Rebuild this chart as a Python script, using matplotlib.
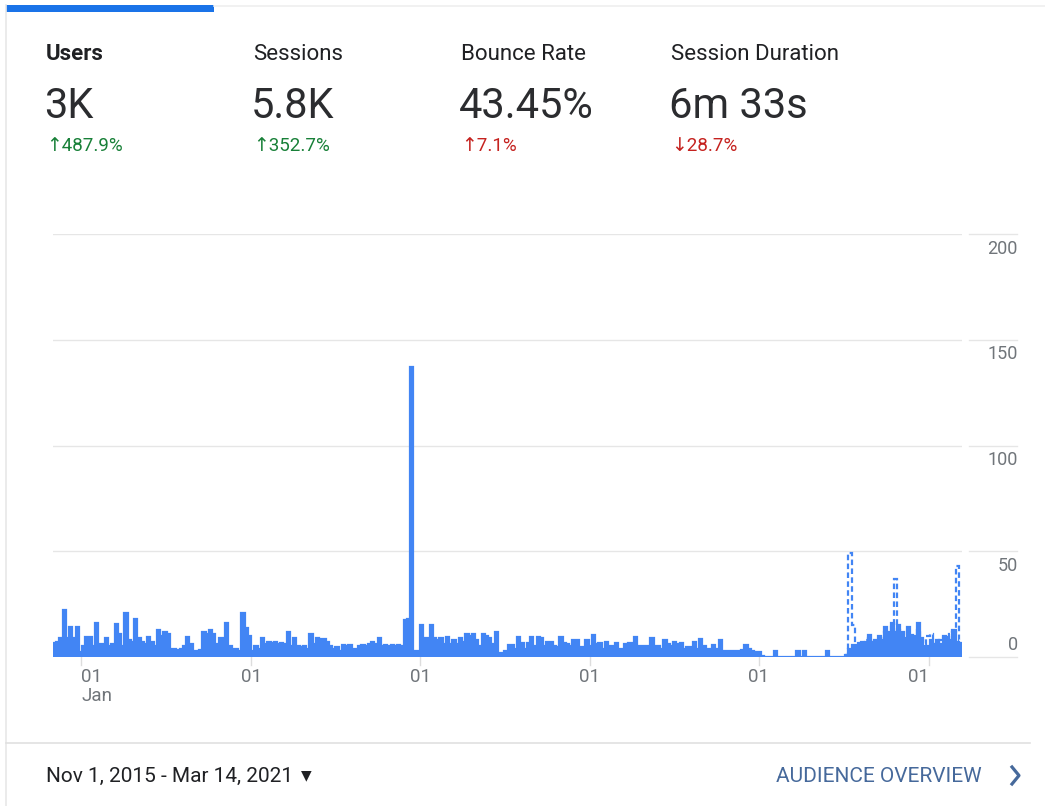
import numpy as np
import matplotlib.pyplot as plt
from matplotlib.lines import Line2D
from matplotlib.patches import Rectangle

plt.rcParams['font.family'] = ['Roboto', 'DejaVu Sans']

# users per week, Nov 1 2015 - Mar 14 2021 (280 weeks)
users = [
    6.5, 7, 9, 22, 9, 14, 9, 14, 2.5, 5,
    9.5, 9.5, 5, 16, 6, 6, 9, 5, 6, 15.5,
    11, 5, 21, 8, 7, 18, 9, 7, 6, 9.5,
    7, 5, 13, 10, 12, 11, 4, 4, 3.5, 4,
    5, 9.5, 6, 3, 3, 3.5, 12, 11, 13, 11,
    6, 9, 9, 16, 5, 4, 4, 3, 21, 13.5,
    10, 3, 5, 4, 9, 6, 7, 6.5, 7, 6,
    6.5, 6, 12, 5, 9, 5, 4.5, 5, 4, 11,
    6, 9, 8.5, 8.5, 7, 5, 4, 4.5, 3, 5.5,
    5, 5.5, 4, 4, 5, 5.5, 5, 6, 7, 6,
    9, 5, 5.5, 5, 5.5, 5, 5.5, 5, 17.5, 18,
    137, 3, 3, 15, 9, 9, 15, 9, 8, 9,
    6, 9.5, 6, 8, 6, 9, 7, 11, 10, 11,
    8, 5, 11, 10, 9, 6, 12, 2, 2, 3,
    5.5, 5.5, 4, 9.5, 6.5, 4, 6.5, 9.5, 5, 9.5,
    9, 5, 7, 7, 5, 4.5, 9.5, 6.5, 6, 5,
    8, 8, 4.5, 4.5, 8, 5, 10.5, 6, 6.5, 4,
    7, 5, 5, 6.5, 4, 4, 6, 6.5, 6.5, 9.5,
    5, 5, 5, 5, 9, 5, 5, 4, 8, 6,
    5, 7, 6, 6.5, 4, 4.5, 4.5, 7, 4, 8.5,
    5, 4, 4, 5.5, 4, 8, 3, 3, 3, 3,
    3, 3, 3.3, 5.7, 4, 3, 2.5, 2.5, 0.5, 0,
    0, 0, 3, 0, 0, 0, 0, 0, 0, 3,
    0, 3, 0, 0, 0, 0, 0, 0, 3, 0,
    0, 0, 0, 0, 1, 4, 5.5, 5.5, 6.5, 6.5,
    7, 10.5, 7, 7, 10, 8, 14, 12, 16, 12,
    15, 12, 9, 14, 10.5, 10, 16, 9, 5, 5,
    8, 5.7, 8, 6, 9, 9.6, 8, 13, 7, 6.5,
]

# dashed series, starts at week 244
dashed_start = 244
users_dashed = [
    1, 49, 15, 5, 6, 7, 8, 9, 6, 8,
    9, 7, 12, 10, 14, 37, 13, 10, 8, 12,
    9, 8, 13, 8, 6, 10, 11, 6, 7, 8,
    10, 9, 11, 12, 43, 8,
]

metric_names = ['Users', 'Sessions', 'Bounce Rate', 'Session Duration']
metric_values = ['3K', '5.8K', '43.45%', '6m 33s']
metric_changes = ['\u2191487.9%', '\u2191352.7%', '\u21917.1%', '\u219328.7%']
metric_colors = ['#188038', '#188038', '#c5221f', '#c5221f']

year_ticks = [61, 427, 792, 1157, 1522, 1888]   # day index of Jan 1
y_ticks = [0, 50, 100, 150, 200]
date_range = 'Nov 1, 2015 - Mar 14, 2021'

blue = '#4285f4'
grid = '#e6e6e6'
W, H = 1045, 806


def fx(px):
    return px / W


def fy(py):
    return 1 - py / H


fig = plt.figure(figsize=(W / 100, H / 100), dpi=100)
fig.patch.set_facecolor('white')

# card frame
fig.add_artist(Line2D([fx(6), fx(6)], [fy(5), fy(806)], color='#e8e8e8', lw=1.2))
fig.add_artist(Line2D([fx(214), fx(1045)], [fy(6), fy(6)], color='#efefef', lw=1.2))
fig.add_artist(Rectangle((fx(6), fy(12)), fx(214) - fx(6), fy(5) - fy(12),
                         color='#1a73e8', lw=0))
fig.add_artist(Line2D([fx(6), fx(1030)], [fy(743), fy(743)], color='#e0e0e0', lw=1.2))

# metrics header
xs = [46, 253, 461, 671]
for i in range(4):
    fig.text(fx(xs[i]), fy(54), metric_names[i], fontsize=16, color='#202124',
             va='center', fontweight='bold' if i == 0 else 'normal')
    fig.text(fx(xs[i] - 2), fy(106), metric_values[i], fontsize=30, color='#2b2c2f',
             va='center')
    fig.text(fx(xs[i]), fy(146), metric_changes[i], fontsize=13.5,
             color=metric_colors[i], va='center')

# chart
ax = fig.add_axes([fx(53), fy(657), fx(962) - fx(53), fy(234) - fy(657)])
edges = np.arange(len(users) + 1) * 7
for v in y_ticks:
    ax.axhline(v, color=grid, lw=1, zorder=0)
ax.stairs(users, edges, fill=True, color=blue, lw=0, zorder=2)
ax.stairs(users, edges, color=blue, lw=1.6, zorder=2)
ax.stairs(users_dashed, edges[dashed_start:], color=blue, lw=1.6,
          ls=(0, (2.5, 1.5)), baseline=None, zorder=3)
ax.set_xlim(0, edges[-1])
ax.set_ylim(0, 200)
ax.axis('off')

for k, t in enumerate(year_ticks):
    ax.plot([t, t], [0, -4], color='#dddddd', lw=1, clip_on=False, zorder=1)
    ha = 'center'
    if k == 0:
        ha = 'left'
    if k == len(year_ticks) - 1:
        ha = 'right'
    ax.text(t, -9.3, '01', ha=ha, va='center', fontsize=13.5, color='#70757a',
            clip_on=False)
ax.text(year_ticks[0], -18.3, 'Jan', ha='left', va='center', fontsize=13.5,
        color='#70757a', clip_on=False)

# right-hand y labels
for v in y_ticks:
    yp = 657 - v * 2.115
    fig.add_artist(Line2D([fx(969), fx(1017)], [fy(yp), fy(yp)], color=grid, lw=1))
    ly = yp - 12 if v == 0 else yp + 14.5
    fig.text(fx(1018), fy(ly), str(v), ha='right', va='center', fontsize=13,
             color='#70757a')

# footer
fig.text(fx(46), fy(776), date_range, fontsize=15, color='#202124', va='center')
fig.text(fx(301), fy(775), '\u25bc', fontsize=10, color='#202124', va='center',
         family='DejaVu Sans')
fig.text(fx(982), fy(777), 'AUDIENCE OVERVIEW', fontsize=15, color='#46699b',
         va='center', ha='right')
fig.add_artist(Line2D([fx(1012), fx(1019), fx(1012)], [fy(767), fy(775.5), fy(784)],
                      color='#46699b', lw=2.3))

fig.savefig('out.png', dpi=100, facecolor='white')
